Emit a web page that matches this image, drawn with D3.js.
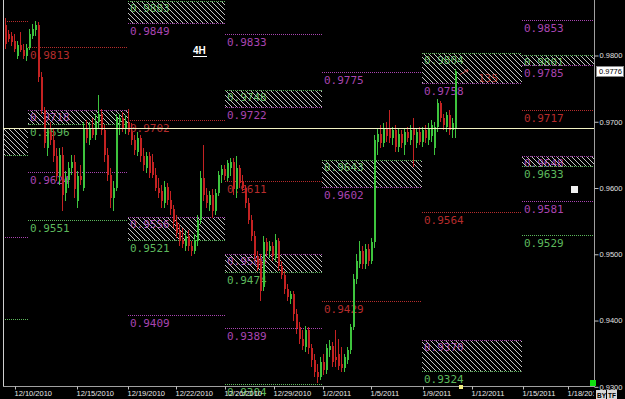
<!DOCTYPE html>
<html>
<head>
<meta charset="utf-8">
<script src="https://cdn.jsdelivr.net/npm/d3@7"></script>
<style>
  html, body { margin: 0; padding: 0; background: #000; }
  svg { display: block; }
</style>
</head>
<body>
<div id="chart"></div>
<script>
// 4H candles, [open, high, low, close]
var bars = [
  [.9846,.9856,.9810,.9818],[.9833,.9838,.9820,.9825],[.9830,.9836,.9815,.9820],[.9822,.9832,.9806,.9810],
  [.9800,.9822,.9795,.9816],[.9816,.9836,.9805,.9808],[.9808,.9818,.9795,.9800],[.9800,.9818,.9792,.9812],
  [.9812,.9840,.9808,.9832],[.9830,.9848,.9825,.9840],[.9838,.9852,.9830,.9846],[.9846,.9850,.9760,.9768],
  [.9768,.9775,.9712,.9718],[.9718,.9722,.9660,.9668],[.9660,.9690,.9648,.9684],[.9684,.9700,.9665,.9672],
  [.9672,.9690,.9640,.9648],[.9648,.9660,.9610,.9618],[.9618,.9660,.9605,.9650],[.9650,.9662,.9565,.9590],
  [.9592,.9625,.9580,.9615],[.9612,.9640,.9600,.9630],[.9630,.9650,.9620,.9640],[.9640,.9650,.9585,.9598],
  [.9580,.9625,.9570,.9618],[.9618,.9635,.9605,.9612],[.9600,.9700,.9595,.9690],[.9690,.9702,.9668,.9675],
  [.9672,.9700,.9665,.9690],[.9690,.9705,.9675,.9680],[.9680,.9712,.9672,.9700],[.9700,.9740,.9690,.9712],
  [.9712,.9720,.9680,.9688],[.9688,.9695,.9640,.9650],[.9650,.9660,.9610,.9620],[.9620,.9630,.9570,.9585],
  [.9585,.9610,.9565,.9600],[.9600,.9712,.9595,.9705],[.9700,.9712,.9680,.9705],[.9705,.9715,.9685,.9690],
  [.9690,.9710,.9682,.9700],[.9700,.9720,.9680,.9685],[.9685,.9698,.9665,.9672],[.9672,.9680,.9650,.9658],
  [.9655,.9685,.9648,.9675],[.9675,.9680,.9640,.9648],[.9648,.9660,.9625,.9635],[.9630,.9655,.9622,.9648],
  [.9648,.9655,.9615,.9622],[.9640,.9652,.9615,.9620],[.9620,.9630,.9595,.9600],[.9600,.9615,.9585,.9592],
  [.9595,.9605,.9570,.9580],[.9578,.9610,.9570,.9602],[.9602,.9608,.9575,.9582],[.9582,.9595,.9560,.9568],
  [.9568,.9575,.9540,.9548],[.9548,.9560,.9525,.9532],[.9535,.9545,.9512,.9520],[.9522,.9540,.9510,.9515],
  [.9512,.9535,.9505,.9528],[.9528,.9536,.9505,.9512],[.9512,.9520,.9498,.9505],[.9505,.9530,.9500,.9522],
  [.9520,.9560,.9512,.9552],[.9552,.9625,.9545,.9615],[.9615,.9665,.9580,.9590],[.9590,.9600,.9570,.9578],
  [.9575,.9595,.9565,.9590],[.9590,.9598,.9555,.9565],[.9565,.9598,.9560,.9592],[.9592,.9625,.9588,.9620],
  [.9620,.9635,.9608,.9628],[.9628,.9635,.9612,.9618],[.9615,.9642,.9610,.9638],[.9630,.9645,.9618,.9640],
  [.9640,.9645,.9590,.9598],[.9598,.9648,.9585,.9630],[.9630,.9635,.9600,.9608],[.9610,.9620,.9595,.9600],
  [.9600,.9605,.9570,.9578],[.9578,.9585,.9545,.9552],[.9552,.9560,.9520,.9528],[.9528,.9535,.9490,.9498],
  [.9498,.9505,.9475,.9480],[.9490,.9500,.9430,.9445],[.9450,.9528,.9445,.9518],[.9518,.9525,.9498,.9505],
  [.9505,.9520,.9495,.9512],[.9512,.9518,.9490,.9498],[.9495,.9530,.9488,.9522],[.9520,.9525,.9475,.9482],
  [.9482,.9490,.9462,.9468],[.9468,.9475,.9440,.9448],[.9448,.9455,.9430,.9436],[.9432,.9445,.9425,.9440],
  [.9440,.9445,.9400,.9410],[.9410,.9418,.9380,.9388],[.9390,.9398,.9365,.9372],[.9372,.9385,.9355,.9362],
  [.9360,.9392,.9352,.9385],[.9385,.9390,.9350,.9358],[.9358,.9365,.9330,.9340],[.9340,.9350,.9315,.9322],
  [.9322,.9335,.9305,.9315],[.9315,.9345,.9310,.9338],[.9338,.9350,.9318,.9325],[.9325,.9365,.9320,.9358],
  [.9355,.9370,.9345,.9362],[.9362,.9368,.9330,.9338],[.9345,.9385,.9330,.9340],[.9350,.9372,.9325,.9332],
  [.9335,.9360,.9322,.9328],[.9328,.9350,.9322,.9345],[.9340,.9360,.9335,.9355],[.9355,.9395,.9350,.9390],
  [.9390,.9470,.9385,.9462],[.9462,.9500,.9455,.9490],[.9485,.9520,.9480,.9505],[.9505,.9512,.9478,.9485],
  [.9485,.9515,.9478,.9508],[.9508,.9515,.9482,.9490],[.9490,.9525,.9485,.9518],[.9518,.9680,.9510,.9672],
  [.9670,.9690,.9650,.9682],[.9682,.9695,.9660,.9668],[.9668,.9698,.9662,.9690],[.9690,.9700,.9670,.9678],
  [.9690,.9718,.9668,.9675],[.9675,.9692,.9665,.9688],[.9688,.9695,.9655,.9662],[.9662,.9690,.9655,.9682],
  [.9682,.9688,.9660,.9668],[.9665,.9690,.9650,.9685],[.9685,.9692,.9670,.9675],[.9672,.9695,.9665,.9688],
  [.9690,.9705,.9632,.9680],[.9668,.9690,.9660,.9685],[.9685,.9692,.9665,.9670],[.9670,.9692,.9662,.9688],
  [.9688,.9695,.9668,.9675],[.9672,.9698,.9665,.9690],[.9678,.9702,.9670,.9695],[.9660,.9700,.9650,.9692],
  [.9692,.9735,.9685,.9728],[.9728,.9732,.9700,.9705],[.9705,.9712,.9688,.9695],[.9692,.9715,.9685,.9710],
  [.9710,.9718,.9680,.9688],[.9688,.9705,.9675,.9698],[.9690,.9779,.9675,.9776]
];

// bar-index positions of the weekly boundaries and of the date labels
var weekEdges = [-0.67, 7.67, 41, 73.33, 105.67, 139, 172.33, 196.33];
var dateTicks = [3.33, 24, 41, 57, 73.33, 89.67, 106, 122, 139.33, 155.67, 172.67, 187.67];
var dateLabels = ["12/10/2010", "12/15/2010", "12/19/2010", "12/22/2010", "12/26/2010", "12/29/2010",
                  "1/2/2011", "1/5/2011", "1/9/2011", "1/12/2011", "1/15/2011", "1/18/2011"];
var priceTicks = [0.93, 0.94, 0.95, 0.96, 0.97, 0.98];
var lastPrice = 0.9776;
var midLine = 0.9690;

// weekly single levels: [week, price, kind]  r = pivot, m = magenta, g = green
var levels = [
  [0, 0.9852, "r"], [0, 0.9526, "m"], [0, 0.9403, "g"],
  [1, 0.9813, "r"], [1, 0.9624, "m"], [1, 0.9551, "g"],
  [2, 0.9702, "r"], [2, 0.9409, "m"],
  [3, 0.9833, "m"], [3, 0.9611, "r"], [3, 0.9389, "m"], [3, 0.9304, "g"],
  [4, 0.9775, "m"], [4, 0.9429, "r"],
  [5, 0.9564, "r"],
  [6, 0.9853, "m"], [6, 0.9717, "r"], [6, 0.9581, "m"], [6, 0.9529, "g"]
];
// weekly zones: [week, top, bottom, kind of top edge]
var zones = [
  [0, 0.9690, 0.9650, "m"],
  [1, 0.9718, 0.9696, "m"],
  [2, 0.9883, 0.9849, "g"], [2, 0.9556, 0.9521, "m"],
  [3, 0.9748, 0.9722, "g"], [3, 0.9500, 0.9474, "m"],
  [4, 0.9643, 0.9602, "g"],
  [5, 0.9804, 0.9758, "g"], [5, 0.9370, 0.9324, "m"],
  [6, 0.9801, 0.9785, "g"], [6, 0.9648, 0.9633, "m"]
];

var width = 625, height = 399;
var colors = {r: "#b52c2c", m: "#a844b0", g: "#5cb85c"};
var upCol = "#3ec43e", dnCol = "#c42222";

var svg = d3.select("#chart").append("svg")
    .attr("width", width)
    .attr("height", height)
    .style("background", "#000");

var x = d3.scaleLinear().domain([0, 196.33]).range([5, 594]);
var y = d3.scaleLinear().domain([0.93, 0.98]).range([386.8, 55.5]);
var fmt = d3.format(".4f");
var py = function (v) { return Math.round(y(v)) + 0.5; };

var defs = svg.append("defs");
defs.append("pattern")
    .attr("id", "hatch")
    .attr("patternUnits", "userSpaceOnUse")
    .attr("width", 5).attr("height", 5)
  .append("path")
    .attr("d", "M-1,-1L6,6M-1,4L1,6M4,-1L6,1")
    .attr("stroke", "#c4c4c4")
    .attr("stroke-width", 1);
defs.append("clipPath").attr("id", "plotclip")
  .append("rect").attr("x", 0).attr("y", 0).attr("width", 594).attr("height", height);

var labelFont = "'DejaVu Sans Mono', monospace";
const g = svg.append("g");

// labels for single levels
g.selectAll("text.lvl").data(levels.filter(function (d) { return d[0] > 0; }))
  .enter().append("text")
    .attr("class", "lvl")
    .attr("x", function (d) { return x(weekEdges[d[0]]) + 2; })
    .attr("y", function (d) { return py(d[1]) + 11.5; })
    .attr("fill", function (d) { return colors[d[2]]; })
    .style("font-family", labelFont)
    .style("font-size", "11px")
    .text(function (d) { return fmt(d[1]); });

// zone labels: top value inside, bottom value under
var zl = zones.filter(function (d) { return d[0] > 0; });
g.selectAll("text.ztop").data(zl)
  .enter().append("text")
    .attr("x", function (d) { return x(weekEdges[d[0]]) + 2; })
    .attr("y", function (d) { return py(d[1]) + 10.5; })
    .attr("fill", function (d) { return colors[d[3]]; })
    .style("font-family", labelFont)
    .style("font-size", "11px")
    .text(function (d) { return fmt(d[1]); });
g.selectAll("text.zbot").data(zl)
  .enter().append("text")
    .attr("x", function (d) { return x(weekEdges[d[0]]) + 2; })
    .attr("y", function (d) { return py(d[2]) + 11.5; })
    .attr("fill", function (d) { return colors[d[3] === "g" ? "m" : "g"]; })
    .style("font-family", labelFont)
    .style("font-size", "11px")
    .text(function (d) { return fmt(d[2]); });

// pip counter near last bar
g.append("text")
    .attr("x", 478).attr("y", 82)
    .attr("fill", "#a83030")
    .style("font-family", labelFont)
    .style("font-size", "11px")
    .text("135");
g.append("path")
    .attr("d", "M459,75L468,70M464,70L468,70L467,73")
    .attr("fill", "none")
    .attr("stroke", "#a83030");

// hatched zones
g.selectAll("rect.zone").data(zones)
  .enter().append("rect")
    .attr("x", function (d) { return x(weekEdges[d[0]]); })
    .attr("width", function (d) { return x(weekEdges[d[0] + 1]) - x(weekEdges[d[0]]); })
    .attr("y", function (d) { return py(d[1]); })
    .attr("height", function (d) { return py(d[2]) - py(d[1]); })
    .attr("fill", "url(#hatch)");

function dotted(x0, x1, yy, col) {
  g.append("line")
      .attr("x1", x0).attr("x2", x1)
      .attr("y1", yy).attr("y2", yy)
      .attr("stroke", col)
      .attr("stroke-dasharray", "1,1")
      .attr("shape-rendering", "crispEdges");
}
levels.forEach(function (d) {
  dotted(x(weekEdges[d[0]]), x(weekEdges[d[0] + 1]), py(d[1]), colors[d[2]]);
});
zones.forEach(function (d) {
  var x0 = x(weekEdges[d[0]]), x1 = x(weekEdges[d[0] + 1]);
  dotted(x0, x1, py(d[1]), colors[d[3]]);
  dotted(x0, x1, py(d[2]), colors[d[3] === "g" ? "m" : "g"]);
});

// candles
var cg = svg.append("g").attr("shape-rendering", "crispEdges");
var c = cg.selectAll("g").data(bars).enter().append("g");
c.append("line")
    .attr("x1", function (d, i) { return Math.round(x(i)) + 0.5; })
    .attr("x2", function (d, i) { return Math.round(x(i)) + 0.5; })
    .attr("y1", function (d) { return y(d[1]); })
    .attr("y2", function (d) { return y(d[2]); })
    .attr("stroke", function (d) { return d[3] >= d[0] ? upCol : dnCol; });
c.append("rect")
    .attr("x", function (d, i) { return Math.round(x(i)) - 0.5; })
    .attr("width", 2)
    .attr("y", function (d) { return y(Math.max(d[0], d[3])); })
    .attr("height", function (d) { return Math.max(1, Math.abs(y(d[0]) - y(d[3]))); })
    .attr("fill", function (d) { return d[3] >= d[0] ? upCol : dnCol; });

// frame
svg.append("line").attr("x1", 3.5).attr("x2", 3.5).attr("y1", 0).attr("y2", 386)
    .attr("stroke", "#d0d0d0");
svg.append("line").attr("x1", 594.5).attr("x2", 594.5).attr("y1", 0).attr("y2", 386)
    .attr("stroke", "#a0a0a0");
svg.append("line").attr("x1", 3).attr("x2", 595).attr("y1", 386.5).attr("y2", 386.5)
    .attr("stroke", "#a0a0a0");

// horizontal reference line
svg.append("line")
    .attr("x1", 3).attr("x2", 594)
    .attr("y1", py(midLine)).attr("y2", py(midLine))
    .attr("stroke", "#f2f2c4");

// price axis
var yAxis = svg.append("g")
    .attr("transform", "translate(594.5,0)")
    .call(d3.axisRight(y).tickValues(priceTicks).tickFormat(fmt).tickSize(4).tickSizeOuter(0));
yAxis.select(".domain").remove();
yAxis.selectAll("line").attr("stroke", "#c0c0c0");
yAxis.selectAll("text")
    .attr("x", 5)
    .attr("fill", "#e0e0e0")
    .style("font-family", "'Liberation Sans', Arial, sans-serif")
    .style("font-size", "7.5px");

// date axis (labels cut at the price axis, as in the terminal)
var xAxis = svg.append("g")
    .attr("clip-path", "url(#plotclip)")
  .append("g")
    .attr("transform", "translate(0,386.5)")
    .call(d3.axisBottom(x).tickValues(dateTicks)
      .tickFormat(function (d, i) { return dateLabels[i]; })
      .tickSize(3).tickSizeOuter(0));
xAxis.select(".domain").remove();
xAxis.selectAll("line").attr("stroke", "#c0c0c0");
xAxis.selectAll("text")
    .attr("text-anchor", "start")
    .attr("x", -1)
    .attr("y", 4)
    .attr("fill", "#e8e8e8")
    .style("font-family", "'Liberation Sans', Arial, sans-serif")
    .style("font-size", "7.5px");

// last price box
var ly = y(lastPrice);
svg.append("rect").attr("x", 596.5).attr("y", Math.round(ly) - 4.5)
    .attr("width", 27).attr("height", 10)
    .attr("fill", "#fff").attr("stroke", "#888");
svg.append("text").attr("x", 599).attr("y", Math.round(ly) + 3)
    .attr("fill", "#000")
    .style("font-family", "'Liberation Sans', Arial, sans-serif")
    .style("font-size", "7.5px")
    .text(fmt(lastPrice));

// timeframe tag
svg.append("text").attr("x", 193).attr("y", 54)
    .attr("fill", "#fff")
    .style("font-family", "'Liberation Sans', Arial, sans-serif")
    .style("font-size", "10px").style("font-weight", "bold")
    .text("4H");
svg.append("line").attr("x1", 193).attr("x2", 207).attr("y1", 56.5).attr("y2", 56.5)
    .attr("stroke", "#fff");

// small widgets
svg.append("rect").attr("x", 571).attr("y", 186).attr("width", 7).attr("height", 7).attr("fill", "#f0f0f0");
svg.append("rect").attr("x", 590).attr("y", 380).attr("width", 6).attr("height", 6).attr("fill", "#10e010");
svg.append("rect").attr("x", 459).attr("y", 385).attr("width", 4).attr("height", 4).attr("fill", "#f4f080");
[["BY", 596], ["TF", 607]].forEach(function (b) {
  svg.append("rect").attr("x", b[1]).attr("y", 390).attr("width", 10).attr("height", 9)
      .attr("fill", "#d8d8d8");
  svg.append("text").attr("x", b[1] + 1).attr("y", 397.5)
      .attr("fill", "#000")
      .style("font-family", "'Liberation Sans', Arial, sans-serif")
      .style("font-size", "6.5px").style("font-weight", "bold")
      .text(b[0]);
});
</script>
</body>
</html>
